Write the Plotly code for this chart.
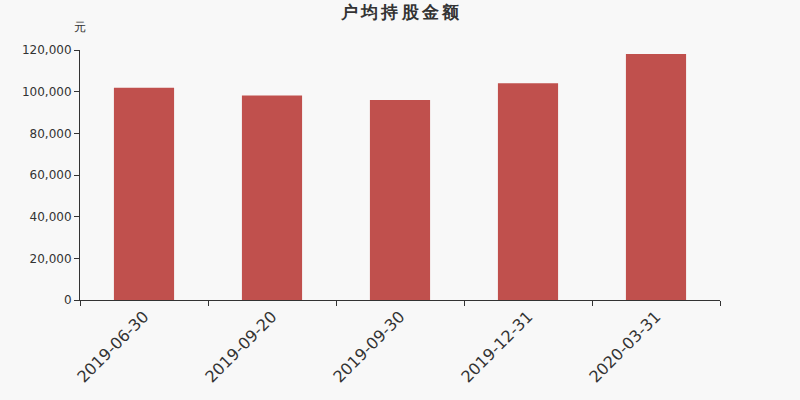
import plotly.graph_objs as go

dates = ['2019-06-30', '2019-09-20', '2019-09-30', '2019-12-31', '2020-03-31']
amounts = [101900, 98200, 96000, 104000, 118100]

title = '\u2009'.join('户均持股金额')
unit = '元'

bar_color = '#c0504d'
text_color = '#333333'
background = '#f8f8f8'

bars = go.Bar(
    x = dates,
    y = amounts,
    width = 0.47,
    marker = {
        'color': bar_color,
        'line': {'width': 0},
    },
    hovertemplate = '%{x}<br>%{y:,}<extra></extra>',
)

layout = {
    'width': 800,
    'height': 400,
    'paper_bgcolor': background,
    'plot_bgcolor': background,
    'font': {
        'family': 'DejaVu Sans',
        'color': text_color,
    },
    'showlegend': False,
    'margin': {
        'l': 80,
        'r': 80,
        't': 50,
        'b': 100,
    },
    'title': {
        'text': '<b>' + title + '</b>',
        'x': 0.5,
        'xanchor': 'center',
        'y': 0.985,
        'yanchor': 'top',
        'font': {'size': 17, 'color': text_color},
    },
    'xaxis': {
        'type': 'category',
        'showgrid': False,
        'showline': True,
        'linecolor': text_color,
        'linewidth': 1,
        'ticks': 'outside',
        'tickson': 'boundaries',
        'ticklen': 5,
        'tickcolor': text_color,
        'tickangle': -45,
        'tickfont': {'size': 16},
        'zeroline': False,
    },
    'yaxis': {
        'range': [0, 120000],
        'dtick': 20000,
        'tickformat': ',d',
        'showgrid': False,
        'showline': True,
        'linecolor': text_color,
        'linewidth': 1,
        'ticks': 'outside',
        'ticklen': 5,
        'tickcolor': text_color,
        'tickfont': {'size': 12},
        'zeroline': False,
    },
    'annotations': [
        {
            'text': unit,
            'xref': 'paper',
            'yref': 'paper',
            'x': 0,
            'y': 1.055,
            'xanchor': 'center',
            'yanchor': 'bottom',
            'showarrow': False,
            'font': {'size': 12, 'color': text_color},
        },
    ],
}

fig = go.Figure(data = [bars], layout = layout)
fig.write_html(
    'out.html',
    config = {'displayModeBar': False},
    post_script = "document.body.style.margin = '0'; document.body.style.background = '%s';" % background,
)
